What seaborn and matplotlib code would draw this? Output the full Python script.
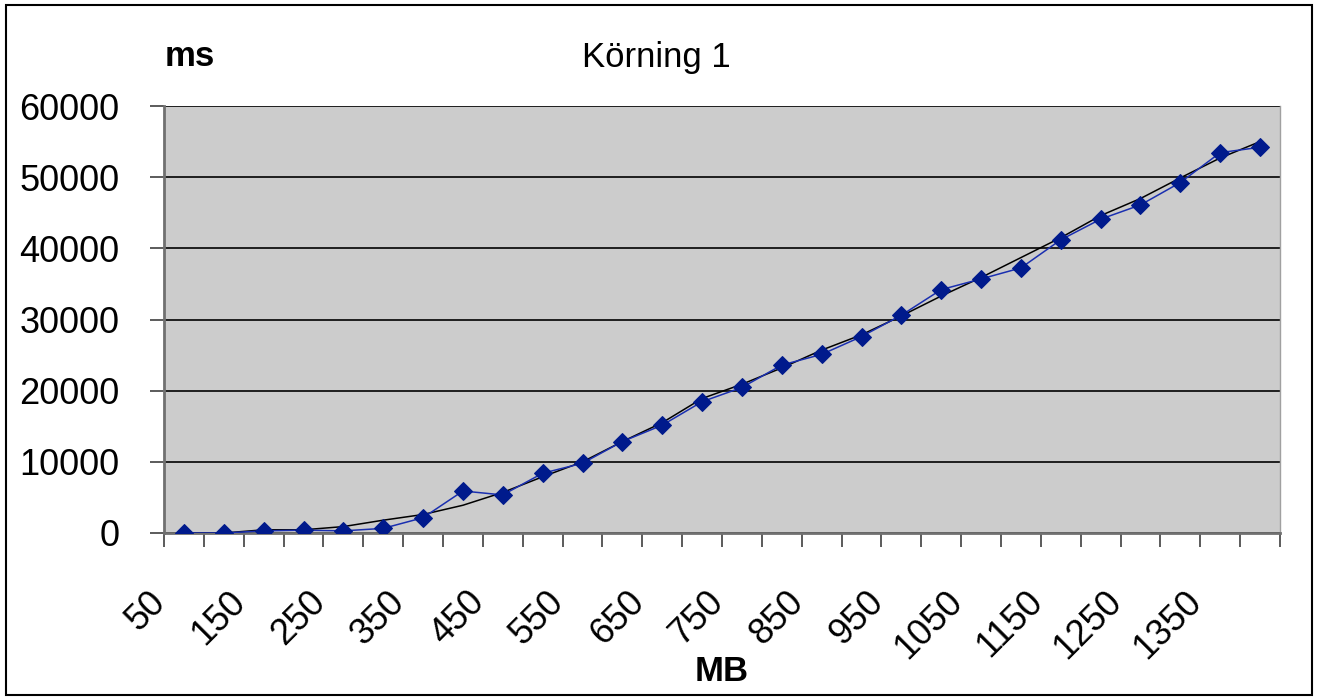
import numpy as np
import pandas as pd
import seaborn as sns
import matplotlib
matplotlib.use("Agg")
import matplotlib.pyplot as plt
import matplotlib.transforms as mtransforms
from matplotlib.patches import Rectangle

# data
mb = [50, 100, 150, 200, 250, 300, 350, 400, 450, 500, 550, 600, 650, 700,
      750, 800, 850, 900, 950, 1000, 1050, 1100, 1150, 1200, 1250, 1300, 1350, 1400]
ms = [0, 0, 300, 400, 300, 650, 2150, 5900, 5350, 8400, 9800, 12850, 15150, 18450,
      20450, 23600, 25100, 27600, 30600, 34200, 35700, 37250, 41200, 44100, 46100, 49250, 53450, 54200]
trend = [0, 0, 450, 450, 900, 1800, 2600, 3900, 5700, 7900, 10000, 12850, 15500, 18900,
         20900, 23200, 25700, 27850, 30500, 33300, 35900, 38700, 41500, 44600, 47000, 49900, 52700, 55000]
tick_labels = [str(v) for v in mb[::2]]

df = pd.DataFrame({"idx": np.arange(len(mb)), "MB": mb, "ms": ms, "trend": trend})

sns.set_style("white")
plt.rcParams['font.family'] = ['Liberation Sans', 'DejaVu Sans']
plt.rcParams['text.color'] = 'black'
plt.rcParams['axes.labelcolor'] = 'black'

fig = plt.figure(figsize=(13.2, 7), dpi=100)
ax = fig.add_axes([164/1320, 1 - 533/700, (1280-164)/1320, (533-106)/700])
ax.set_facecolor("#cccccc")

sns.lineplot(data=df, x="idx", y="trend", ax=ax, color="black", lw=1.1, zorder=3)
sns.lineplot(data=df, x="idx", y="ms", ax=ax, color="#1a2fb0", lw=1.1,
             marker="D", markersize=9.5, markerfacecolor="#001a8c",
             markeredgecolor="#001a8c", zorder=4)

ax.set_xlim(-0.5, len(mb) - 0.5)
ax.set_ylim(0, 60000)
ax.set_yticks(np.arange(0, 60001, 10000))
ax.set_yticklabels([str(v) for v in range(0, 60001, 10000)], fontsize=26)
ax.grid(axis="y", color="black", lw=1.2)
ax.set_axisbelow(True)

# tick marks on category boundaries, labels on every other category
ax.set_xticks(np.arange(-0.5, len(mb), 1), minor=True)
ax.set_xticks(np.arange(0, len(mb), 2))
ax.set_xticklabels(tick_labels, fontsize=26, rotation=45, ha="right", va="top",
                   rotation_mode="anchor")
ax.tick_params(axis="x", which="major", length=0, pad=37, labelcolor="black")
ax.tick_params(axis="x", which="minor", length=10, width=1.2, color="#404040", direction="out",
               bottom=True)
ax.tick_params(axis="y", length=10, width=1.2, color="#404040", direction="out", pad=22,
               left=True, labelcolor="black")
shift = mtransforms.ScaledTranslation(-36/100, 0, fig.dpi_scale_trans)
for lbl in ax.get_xticklabels():
    lbl.set_transform(lbl.get_transform() + shift)

ax.spines["top"].set_visible(False)
ax.spines["left"].set_color("#707070")
ax.spines["left"].set_linewidth(2)
ax.spines["bottom"].set_color("#707070")
ax.spines["bottom"].set_linewidth(2)
ax.spines["right"].set_color("#a0a0a0")
ax.spines["right"].set_linewidth(1)

ax.set_xlabel("MB", fontsize=25, fontweight="bold", color="black")
ax.xaxis.set_label_coords(0.5, -0.285)
ax.set_ylabel("")

fig.text(165/1320, 1 - 57/700, "ms", fontsize=25, fontweight="bold", ha="left", va="center")
fig.text(656/1320, 1 - 57/700, "Körning 1", fontsize=25, ha="center", va="center")

fig.patches.append(Rectangle((6/1320, 5/700), 1306/1320, 690/700, transform=fig.transFigure,
                             fill=False, edgecolor="black", lw=1.5))

fig.savefig("out.png", dpi=100)
